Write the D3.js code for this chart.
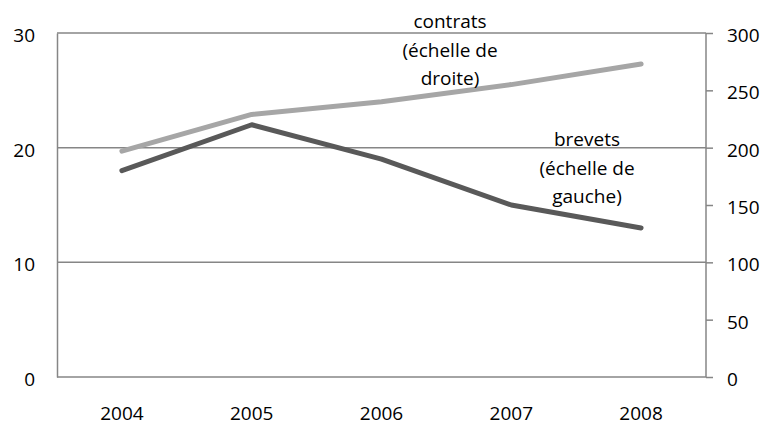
<!DOCTYPE html>
<html>
<head>
<meta charset="utf-8">
<script src="https://cdn.jsdelivr.net/npm/d3@7"></script>
<style>
  html, body { margin: 0; padding: 0; background: #fff; }
  svg { display: block; font-family: "Open Sans", sans-serif; }
</style>
</head>
<body>
<div id="chart"></div>
<script>
"use strict";

// ─── Data ────────────────────────────────────────────────────────────────────
const years    = ["2004", "2005", "2006", "2007", "2008"];
const brevets  = [18, 22, 19, 15, 13];        // left scale
const contrats = [197, 229, 240, 255, 273];   // right scale
const leftTicks  = [0, 10, 20, 30];
const rightTicks = [0, 50, 100, 150, 200, 250, 300];
const contratsLabel = ["contrats", "(échelle de", "droite)"];
const brevetsLabel  = ["brevets", "(échelle de", "gauche)"];

// ─── Layout ──────────────────────────────────────────────────────────────────
const W = 765, H = 427;
const plot = { left: 57, right: 706, top: 33, bottom: 377 };
const AXIS = "#868686";
const FONT = 19;

const svg = d3.select("#chart").append("svg")
  .attr("width", W).attr("height", H);

const x = d3.scaleBand().domain(years).range([plot.left, plot.right]);
const yL = d3.scaleLinear().domain([0, 30]).range([plot.bottom, plot.top]);
const yR = d3.scaleLinear().domain([0, 300]).range([plot.bottom, plot.top]);

// gridlines (major, left scale)
svg.append("g").selectAll("line")
  .data(leftTicks.filter(d => d > 0))
  .join("line")
  .attr("x1", plot.left).attr("x2", plot.right)
  .attr("y1", d => yL(d)).attr("y2", d => yL(d))
  .attr("stroke", AXIS).attr("stroke-width", 1.5);

// left axis
const gl = svg.append("g")
  .attr("transform", `translate(${plot.left},0)`)
  .call(d3.axisLeft(yL).tickValues(leftTicks).tickSize(0).tickPadding(22));
gl.select(".domain").attr("stroke", AXIS).attr("stroke-width", 1.5);
gl.selectAll("text").attr("font-size", FONT).attr("font-family", "Open Sans")
  .attr("fill", "#000").attr("dy", "0.45em");

// right axis
const gr = svg.append("g")
  .attr("transform", `translate(${plot.right},0)`)
  .call(d3.axisRight(yR).tickValues(rightTicks).tickSize(7).tickPadding(14));
gr.select(".domain").attr("stroke", AXIS).attr("stroke-width", 1.5)
  .attr("d", `M0,${plot.top}V${plot.bottom}`);
gr.selectAll(".tick line").attr("stroke", AXIS).attr("stroke-width", 1.5);
gr.selectAll("text").attr("font-size", FONT).attr("font-family", "Open Sans")
  .attr("fill", "#000").attr("dy", "0.45em");

// bottom axis line
svg.append("line")
  .attr("x1", plot.left).attr("x2", plot.right)
  .attr("y1", plot.bottom).attr("y2", plot.bottom)
  .attr("stroke", AXIS).attr("stroke-width", 1.5);

// x labels
svg.append("g").selectAll("text")
  .data(years)
  .join("text")
  .attr("x", d => x(d) + x.bandwidth() / 2)
  .attr("y", 420)
  .attr("text-anchor", "middle")
  .attr("font-size", FONT)
  .text(d => d);

// lines
const cx = (d, i) => x(years[i]) + x.bandwidth() / 2;

svg.append("path")
  .datum(contrats)
  .attr("fill", "none")
  .attr("stroke", "#a6a6a6")
  .attr("stroke-width", 5)
  .attr("stroke-linejoin", "round")
  .attr("stroke-linecap", "round")
  .attr("d", d3.line().x(cx).y(d => yR(d)));

svg.append("path")
  .datum(brevets)
  .attr("fill", "none")
  .attr("stroke", "#595959")
  .attr("stroke-width", 5)
  .attr("stroke-linejoin", "round")
  .attr("stroke-linecap", "round")
  .attr("d", d3.line().x(cx).y(d => yL(d)));

// series labels
function label(lines, cxPos, y0) {
  svg.append("g").selectAll("text")
    .data(lines)
    .join("text")
    .attr("x", cxPos)
    .attr("y", (d, i) => y0 + i * 28.5)
    .attr("text-anchor", "middle")
    .attr("font-size", FONT)
    .text(d => d);
}
label(contratsLabel, 450, 28);
label(brevetsLabel, 587, 146);
</script>
</body>
</html>
